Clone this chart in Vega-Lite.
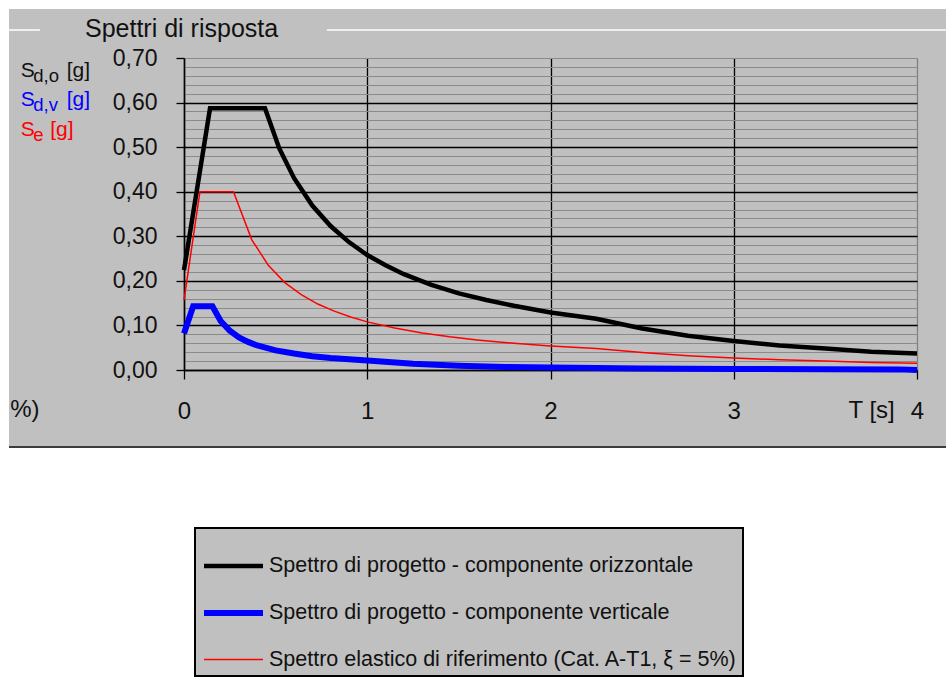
{
  "$schema": "https://vega.github.io/schema/vega-lite/v6.json",
  "width": 733,
  "height": 312,
  "autosize": {"type": "none"},
  "padding": {"left": 184, "top": 58, "right": 29, "bottom": 312},
  "background": "#c0c0c0",
  "title": {"text": "Spettri di risposta", "anchor": "start", "frame": "group", "orient": "top", "offset": 0, "dx": -99, "dy": 54, "baseline": "middle", "font": "Liberation Sans", "fontSize": 25, "fontWeight": "normal", "color": "#111111"},
  "config": {
    "view": {"stroke": null},
    "legend": {"orient": "none", "legendX": 11, "legendY": 470, "fillColor": "#c0c0c0", "strokeColor": "#000000", "strokeWidth": 2, "padding": 6, "symbolType": "stroke", "symbolSize": 3481, "labelFont": "Liberation Sans", "labelFontSize": 21.5, "labelColor": "#111111", "labelOffset": 3, "rowPadding": 3.5, "labelLimit": 0}
  },
  "data": {"values": [
    {"serie": "Spettro elastico di riferimento (Cat. A-T1, ξ = 5%)", "T": 0, "Sa": 0.157},
    {"serie": "Spettro elastico di riferimento (Cat. A-T1, ξ = 5%)", "T": 0.087, "Sa": 0.4},
    {"serie": "Spettro elastico di riferimento (Cat. A-T1, ξ = 5%)", "T": 0.27, "Sa": 0.4},
    {"serie": "Spettro elastico di riferimento (Cat. A-T1, ξ = 5%)", "T": 0.37, "Sa": 0.292},
    {"serie": "Spettro elastico di riferimento (Cat. A-T1, ξ = 5%)", "T": 0.46, "Sa": 0.235},
    {"serie": "Spettro elastico di riferimento (Cat. A-T1, ξ = 5%)", "T": 0.55, "Sa": 0.196},
    {"serie": "Spettro elastico di riferimento (Cat. A-T1, ξ = 5%)", "T": 0.64, "Sa": 0.169},
    {"serie": "Spettro elastico di riferimento (Cat. A-T1, ξ = 5%)", "T": 0.73, "Sa": 0.148},
    {"serie": "Spettro elastico di riferimento (Cat. A-T1, ξ = 5%)", "T": 0.82, "Sa": 0.132},
    {"serie": "Spettro elastico di riferimento (Cat. A-T1, ξ = 5%)", "T": 0.91, "Sa": 0.119},
    {"serie": "Spettro elastico di riferimento (Cat. A-T1, ξ = 5%)", "T": 1.0, "Sa": 0.108},
    {"serie": "Spettro elastico di riferimento (Cat. A-T1, ξ = 5%)", "T": 1.15, "Sa": 0.094},
    {"serie": "Spettro elastico di riferimento (Cat. A-T1, ξ = 5%)", "T": 1.3, "Sa": 0.083},
    {"serie": "Spettro elastico di riferimento (Cat. A-T1, ξ = 5%)", "T": 1.45, "Sa": 0.0745},
    {"serie": "Spettro elastico di riferimento (Cat. A-T1, ξ = 5%)", "T": 1.6, "Sa": 0.0675},
    {"serie": "Spettro elastico di riferimento (Cat. A-T1, ξ = 5%)", "T": 1.8, "Sa": 0.06},
    {"serie": "Spettro elastico di riferimento (Cat. A-T1, ξ = 5%)", "T": 2.0, "Sa": 0.054},
    {"serie": "Spettro elastico di riferimento (Cat. A-T1, ξ = 5%)", "T": 2.25, "Sa": 0.048},
    {"serie": "Spettro elastico di riferimento (Cat. A-T1, ξ = 5%)", "T": 2.5, "Sa": 0.039},
    {"serie": "Spettro elastico di riferimento (Cat. A-T1, ξ = 5%)", "T": 2.75, "Sa": 0.032},
    {"serie": "Spettro elastico di riferimento (Cat. A-T1, ξ = 5%)", "T": 3.0, "Sa": 0.027},
    {"serie": "Spettro elastico di riferimento (Cat. A-T1, ξ = 5%)", "T": 3.25, "Sa": 0.023},
    {"serie": "Spettro elastico di riferimento (Cat. A-T1, ξ = 5%)", "T": 3.5, "Sa": 0.02},
    {"serie": "Spettro elastico di riferimento (Cat. A-T1, ξ = 5%)", "T": 3.75, "Sa": 0.017},
    {"serie": "Spettro elastico di riferimento (Cat. A-T1, ξ = 5%)", "T": 4.0, "Sa": 0.015},
    {"serie": "Spettro di progetto - componente orizzontale", "T": 0, "Sa": 0.224},
    {"serie": "Spettro di progetto - componente orizzontale", "T": 0.142, "Sa": 0.587},
    {"serie": "Spettro di progetto - componente orizzontale", "T": 0.442, "Sa": 0.587},
    {"serie": "Spettro di progetto - componente orizzontale", "T": 0.52, "Sa": 0.497},
    {"serie": "Spettro di progetto - componente orizzontale", "T": 0.6, "Sa": 0.431},
    {"serie": "Spettro di progetto - componente orizzontale", "T": 0.7, "Sa": 0.369},
    {"serie": "Spettro di progetto - componente orizzontale", "T": 0.8, "Sa": 0.323},
    {"serie": "Spettro di progetto - componente orizzontale", "T": 0.9, "Sa": 0.287},
    {"serie": "Spettro di progetto - componente orizzontale", "T": 1.0, "Sa": 0.258},
    {"serie": "Spettro di progetto - componente orizzontale", "T": 1.1, "Sa": 0.235},
    {"serie": "Spettro di progetto - componente orizzontale", "T": 1.2, "Sa": 0.215},
    {"serie": "Spettro di progetto - componente orizzontale", "T": 1.35, "Sa": 0.191},
    {"serie": "Spettro di progetto - componente orizzontale", "T": 1.5, "Sa": 0.172},
    {"serie": "Spettro di progetto - componente orizzontale", "T": 1.65, "Sa": 0.157},
    {"serie": "Spettro di progetto - componente orizzontale", "T": 1.8, "Sa": 0.144},
    {"serie": "Spettro di progetto - componente orizzontale", "T": 2.0, "Sa": 0.129},
    {"serie": "Spettro di progetto - componente orizzontale", "T": 2.25, "Sa": 0.115},
    {"serie": "Spettro di progetto - componente orizzontale", "T": 2.5, "Sa": 0.093},
    {"serie": "Spettro di progetto - componente orizzontale", "T": 2.75, "Sa": 0.077},
    {"serie": "Spettro di progetto - componente orizzontale", "T": 3.0, "Sa": 0.065},
    {"serie": "Spettro di progetto - componente orizzontale", "T": 3.25, "Sa": 0.055},
    {"serie": "Spettro di progetto - componente orizzontale", "T": 3.5, "Sa": 0.048},
    {"serie": "Spettro di progetto - componente orizzontale", "T": 3.75, "Sa": 0.041},
    {"serie": "Spettro di progetto - componente orizzontale", "T": 4.0, "Sa": 0.037},
    {"serie": "Spettro di progetto - componente verticale", "T": 0, "Sa": 0.082},
    {"serie": "Spettro di progetto - componente verticale", "T": 0.05, "Sa": 0.143},
    {"serie": "Spettro di progetto - componente verticale", "T": 0.155, "Sa": 0.143},
    {"serie": "Spettro di progetto - componente verticale", "T": 0.2, "Sa": 0.11},
    {"serie": "Spettro di progetto - componente verticale", "T": 0.25, "Sa": 0.088},
    {"serie": "Spettro di progetto - componente verticale", "T": 0.3, "Sa": 0.073},
    {"serie": "Spettro di progetto - componente verticale", "T": 0.35, "Sa": 0.063},
    {"serie": "Spettro di progetto - componente verticale", "T": 0.4, "Sa": 0.055},
    {"serie": "Spettro di progetto - componente verticale", "T": 0.5, "Sa": 0.044},
    {"serie": "Spettro di progetto - componente verticale", "T": 0.6, "Sa": 0.037},
    {"serie": "Spettro di progetto - componente verticale", "T": 0.7, "Sa": 0.031},
    {"serie": "Spettro di progetto - componente verticale", "T": 0.8, "Sa": 0.027},
    {"serie": "Spettro di progetto - componente verticale", "T": 0.9, "Sa": 0.024},
    {"serie": "Spettro di progetto - componente verticale", "T": 1.0, "Sa": 0.0215},
    {"serie": "Spettro di progetto - componente verticale", "T": 1.25, "Sa": 0.014},
    {"serie": "Spettro di progetto - componente verticale", "T": 1.5, "Sa": 0.0095},
    {"serie": "Spettro di progetto - componente verticale", "T": 1.75, "Sa": 0.007},
    {"serie": "Spettro di progetto - componente verticale", "T": 2.0, "Sa": 0.0054},
    {"serie": "Spettro di progetto - componente verticale", "T": 2.5, "Sa": 0.0034},
    {"serie": "Spettro di progetto - componente verticale", "T": 3.0, "Sa": 0.0024},
    {"serie": "Spettro di progetto - componente verticale", "T": 3.5, "Sa": 0.0018},
    {"serie": "Spettro di progetto - componente verticale", "T": 3.9, "Sa": 0.0014},
    {"serie": "Spettro di progetto - componente verticale", "T": 4.0, "Sa": 0.0}
  ]},
  "layer": [
    {
      "data": {"values": [{}]},
      "mark": {"type": "rect", "color": "#ffffff"},
      "encoding": {
        "x": {"datum": -1.1, "type": "quantitative"},
        "x2": {"datum": 4.3},
        "y": {"datum": -0.1728, "type": "quantitative"},
        "y2": {"datum": -0.8}
      }
    },
    {
      "data": {"values": [{}]},
      "mark": {"type": "rect", "color": "#ffffff"},
      "encoding": {
        "x": {"datum": -1.1, "type": "quantitative"},
        "x2": {"datum": -0.955},
        "y": {"datum": -0.1728, "type": "quantitative"},
        "y2": {"datum": 0.83}
      }
    },
    {
      "data": {"values": [{}]},
      "mark": {"type": "rect", "color": "#ffffff"},
      "encoding": {
        "x": {"datum": -1.1, "type": "quantitative"},
        "x2": {"datum": 4.3},
        "y": {"datum": 0.8099, "type": "quantitative"},
        "y2": {"datum": 0.83}
      }
    },
    {
      "data": {"values": [{}]},
      "mark": {"type": "rule", "color": "#3c3c3c", "strokeWidth": 2},
      "encoding": {
        "x": {"datum": -0.955, "type": "quantitative"},
        "x2": {"datum": 4.3},
        "y": {"datum": -0.1728, "type": "quantitative"}
      }
    },
    {
      "data": {"values": [{}]},
      "mark": {"type": "rule", "color": "#ffffff", "strokeWidth": 1.5},
      "encoding": {
        "x": {"datum": -0.955, "type": "quantitative"},
        "x2": {"datum": -0.786},
        "y": {"datum": 0.7628, "type": "quantitative"}
      }
    },
    {
      "data": {"values": [{}]},
      "mark": {"type": "rule", "color": "#ffffff", "strokeWidth": 1.5},
      "encoding": {
        "x": {"datum": 0.78, "type": "quantitative"},
        "x2": {"datum": 4.3},
        "y": {"datum": 0.7628, "type": "quantitative"}
      }
    },
    {
      "data": {"values": [{}]},
      "mark": {"type": "text", "text": "%)", "align": "center", "baseline": "middle", "fontSize": 24, "font": "Liberation Sans", "color": "#111111"},
      "encoding": {
        "x": {"datum": -0.868, "type": "quantitative"},
        "y": {"datum": -0.0897, "type": "quantitative"}
      }
    },
    {
      "data": {"values": [{}]},
      "mark": {"type": "text", "text": "S", "align": "left", "baseline": "alphabetic", "fontSize": 21, "font": "Liberation Sans", "color": "#111111"},
      "encoding": {"x": {"datum": -0.891, "type": "quantitative"}, "y": {"datum": 0.6574, "type": "quantitative"}}
    },
    {
      "data": {"values": [{}]},
      "mark": {"type": "text", "text": "d,o", "align": "left", "baseline": "alphabetic", "dx": 12.5, "dy": 5, "fontSize": 18.5, "font": "Liberation Sans", "color": "#111111"},
      "encoding": {"x": {"datum": -0.891, "type": "quantitative"}, "y": {"datum": 0.6574, "type": "quantitative"}}
    },
    {
      "data": {"values": [{}]},
      "mark": {"type": "text", "text": "[g]", "align": "left", "baseline": "alphabetic", "dx": 46, "fontSize": 21, "font": "Liberation Sans", "color": "#111111"},
      "encoding": {"x": {"datum": -0.891, "type": "quantitative"}, "y": {"datum": 0.6574, "type": "quantitative"}}
    },
    {
      "data": {"values": [{}]},
      "mark": {"type": "text", "text": "S", "align": "left", "baseline": "alphabetic", "fontSize": 21, "font": "Liberation Sans", "color": "#0000ff"},
      "encoding": {"x": {"datum": -0.891, "type": "quantitative"}, "y": {"datum": 0.5923, "type": "quantitative"}}
    },
    {
      "data": {"values": [{}]},
      "mark": {"type": "text", "text": "d,v", "align": "left", "baseline": "alphabetic", "dx": 12.5, "dy": 5, "fontSize": 18.5, "font": "Liberation Sans", "color": "#0000ff"},
      "encoding": {"x": {"datum": -0.891, "type": "quantitative"}, "y": {"datum": 0.5923, "type": "quantitative"}}
    },
    {
      "data": {"values": [{}]},
      "mark": {"type": "text", "text": "[g]", "align": "left", "baseline": "alphabetic", "dx": 46, "fontSize": 21, "font": "Liberation Sans", "color": "#0000ff"},
      "encoding": {"x": {"datum": -0.891, "type": "quantitative"}, "y": {"datum": 0.5923, "type": "quantitative"}}
    },
    {
      "data": {"values": [{}]},
      "mark": {"type": "text", "text": "S", "align": "left", "baseline": "alphabetic", "fontSize": 21, "font": "Liberation Sans", "color": "#ff0000"},
      "encoding": {"x": {"datum": -0.891, "type": "quantitative"}, "y": {"datum": 0.525, "type": "quantitative"}}
    },
    {
      "data": {"values": [{}]},
      "mark": {"type": "text", "text": "e", "align": "left", "baseline": "alphabetic", "dx": 12.5, "dy": 5, "fontSize": 18.5, "font": "Liberation Sans", "color": "#ff0000"},
      "encoding": {"x": {"datum": -0.891, "type": "quantitative"}, "y": {"datum": 0.525, "type": "quantitative"}}
    },
    {
      "data": {"values": [{}]},
      "mark": {"type": "text", "text": "[g]", "align": "left", "baseline": "alphabetic", "dx": 29.5, "fontSize": 21, "font": "Liberation Sans", "color": "#ff0000"},
      "encoding": {"x": {"datum": -0.891, "type": "quantitative"}, "y": {"datum": 0.525, "type": "quantitative"}}
    },
    {
      "mark": {"type": "line", "strokeJoin": "miter"},
      "encoding": {
        "x": {
          "field": "T", "type": "quantitative",
          "scale": {"domain": [0, 4], "nice": false, "zero": false},
          "axis": {
            "values": [0, 1, 2, 3, 4],
            "tickCount": 10,
            "grid": true,
            "gridColor": {"condition": {"test": "datum.value >= 3.99", "value": "#808080"}, "value": "#000000"},
            "gridWidth": 1.3,
            "tickSize": 9, "tickColor": "#000000", "tickWidth": 1.3,
            "domainColor": "#000000", "domainWidth": 1.5,
            "labelFont": "Liberation Sans", "labelFontSize": 24, "labelColor": "#111111",
            "labelPadding": 32, "labelBaseline": "middle", "labelAngle": 0, "labelFlush": false, "labelOverlap": false,
            "format": "d",
            "title": "T [s]", "titleX": 664, "titleY": 40, "titleAlign": "left", "titleBaseline": "middle",
            "titleFont": "Liberation Sans", "titleFontSize": 24, "titleFontWeight": "normal", "titleColor": "#111111"
          }
        },
        "y": {
          "field": "Sa", "type": "quantitative",
          "scale": {"domain": [0, 0.7], "nice": false, "zero": false},
          "axis": {
            "values": [0, 0.02, 0.04, 0.06, 0.08, 0.1, 0.12, 0.14, 0.16, 0.18, 0.2, 0.22, 0.24, 0.26, 0.28, 0.3, 0.32, 0.34, 0.36, 0.38, 0.4, 0.42, 0.44, 0.46, 0.48, 0.5, 0.52, 0.54, 0.56, 0.58, 0.6, 0.62, 0.64, 0.66, 0.68, 0.7],
            "tickCount": 100,
            "grid": true,
            "gridColor": {"condition": {"test": "abs(datum.value*10 - round(datum.value*10)) > 0.001 || datum.value > 0.69", "value": "#8a8a8a"}, "value": "#000000"},
            "gridWidth": {"condition": {"test": "abs(datum.value*10 - round(datum.value*10)) > 0.001 || datum.value > 0.69", "value": 1}, "value": 1.3},
            "tickColor": {"condition": {"test": "abs(datum.value*10 - round(datum.value*10)) > 0.001", "value": "transparent"}, "value": "#000000"},
            "tickSize": 8, "tickWidth": 1.3,
            "domainColor": "#000000", "domainWidth": 1.5,
            "labelExpr": "abs(datum.value*10 - round(datum.value*10)) < 0.001 ? replace(format(datum.value, '.2f'), '.', ',') : ''",
            "labelFont": "Liberation Sans", "labelFontSize": 23, "labelColor": "#111111",
            "labelPadding": 19, "labelBaseline": "middle", "labelFlush": false, "labelOverlap": false,
            "title": null
          }
        },
        "color": {
          "field": "serie", "type": "nominal",
          "scale": {"domain": ["Spettro elastico di riferimento (Cat. A-T1, ξ = 5%)", "_", "Spettro di progetto - componente orizzontale", "Spettro di progetto - componente verticale"], "range": ["#ff0000", "#888888", "#000000", "#0000ff"]},
          "legend": {"title": null, "values": ["Spettro di progetto - componente orizzontale", "Spettro di progetto - componente verticale", "Spettro elastico di riferimento (Cat. A-T1, ξ = 5%)"]}
        },
        "strokeWidth": {
          "field": "serie", "type": "nominal",
          "scale": {"domain": ["Spettro elastico di riferimento (Cat. A-T1, ξ = 5%)", "_", "Spettro di progetto - componente orizzontale", "Spettro di progetto - componente verticale"], "range": [1.5, 6]},
          "legend": {"title": null, "values": ["Spettro di progetto - componente orizzontale", "Spettro di progetto - componente verticale", "Spettro elastico di riferimento (Cat. A-T1, ξ = 5%)"]}
        }
      }
    }
  ]
}
